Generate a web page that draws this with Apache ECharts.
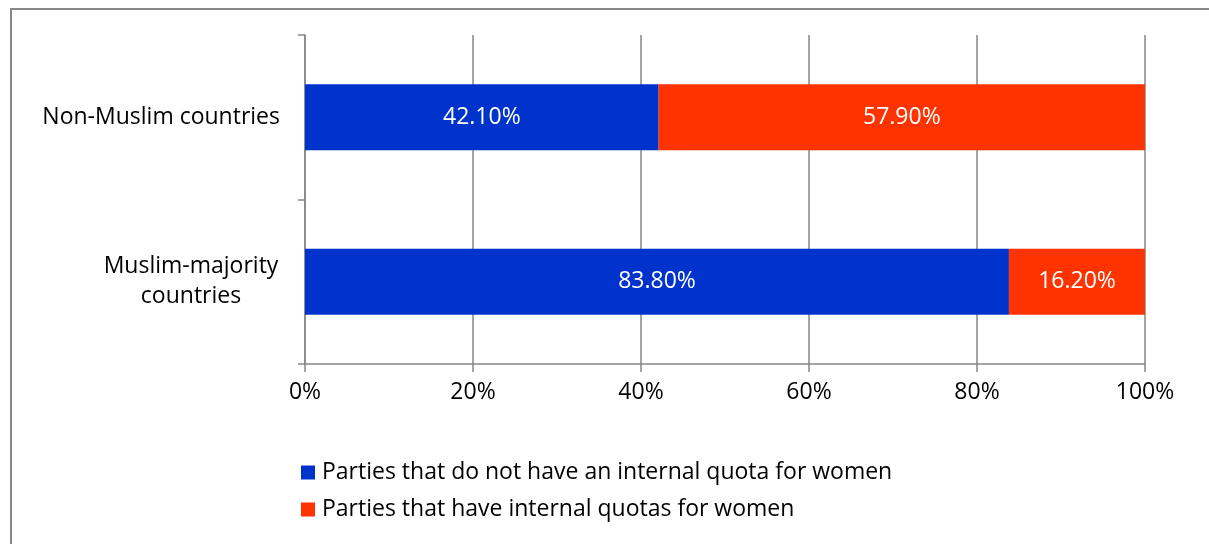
<!DOCTYPE html>
<html>
<head>
<meta charset="utf-8">
<script src="https://cdn.jsdelivr.net/npm/echarts@6/dist/echarts.min.js"></script>
<style>
  html, body { margin: 0; padding: 0; background: #fff; }
  #chart { width: 1209px; height: 544px; }
</style>
</head>
<body>
<div id="chart"></div>
<script>
const categories = ['Non-Muslim countries', 'Muslim-majority\ncountries'];
const seriesNames = ['Parties that do not have an internal quota for women', 'Parties that have internal quotas for women'];
const noQuota = [42.1, 83.8];
const withQuota = [57.9, 16.2];
const xTicks = [0, 20, 40, 60, 80, 100];

const FONT = '"Open Sans", "Noto Sans", sans-serif';
const FS = 23;
const chart = echarts.init(document.getElementById('chart'), null, { renderer: 'canvas' });

const labelStyle = {
  show: true,
  position: 'inside',
  color: '#ffffff',
  fontFamily: FONT,
  fontSize: FS,
  formatter: p => p.value.toFixed(2) + '%'
};

chart.setOption({
  animation: false,
  backgroundColor: '#ffffff',
  graphic: [{
    type: 'rect',
    shape: { x: 11, y: 9, width: 1400, height: 800 },
    style: { fill: 'none', stroke: '#888888', lineWidth: 2 },
    silent: true
  }],
  grid: { left: 305, right: 64, top: 35, bottom: 180, containLabel: false },
  xAxis: {
    type: 'value',
    min: xTicks[0],
    max: xTicks[xTicks.length - 1],
    interval: 20,
    axisLine: { show: true, lineStyle: { color: '#868686', width: 1.5 } },
    axisTick: { show: true, length: 8, lineStyle: { color: '#868686', width: 1.5 } },
    splitLine: { show: true, lineStyle: { color: '#868686', width: 1.5 } },
    axisLabel: { color: '#000', fontFamily: FONT, fontSize: FS, margin: 17, formatter: '{value}%' }
  },
  yAxis: {
    type: 'category',
    data: categories,
    inverse: true,
    axisLine: { show: true, lineStyle: { color: '#868686', width: 1.5 } },
    axisTick: { show: true, length: 7, lineStyle: { color: '#868686', width: 1.5 } },
    splitLine: { show: false },
    axisLabel: {
      color: '#000', fontFamily: FONT, fontSize: FS, margin: 25, lineHeight: 30,
      formatter: v => v.indexOf('\n') >= 0 ? v.split('\n').map(s => '{c|' + s + '}').join('\n') : v,
      rich: { c: { width: 178, align: 'center', fontFamily: FONT, fontSize: FS, lineHeight: 30, color: '#000' } }
    }
  },
  legend: {
    orient: 'vertical',
    left: 296,
    top: 456,
    itemWidth: 14,
    itemHeight: 14,
    itemGap: 14,
    icon: 'rect',
    textStyle: { color: '#000', fontFamily: FONT, fontSize: FS, padding: [0, 0, 0, 2] },
    data: seriesNames
  },
  series: [
    { name: seriesNames[0], type: 'bar', stack: 'total', data: noQuota, barWidth: '40%', itemStyle: { color: '#0033CC' }, label: labelStyle },
    { name: seriesNames[1], type: 'bar', stack: 'total', data: withQuota, barWidth: '40%', itemStyle: { color: '#FF3300' }, label: labelStyle }
  ]
});
</script>
</body>
</html>
